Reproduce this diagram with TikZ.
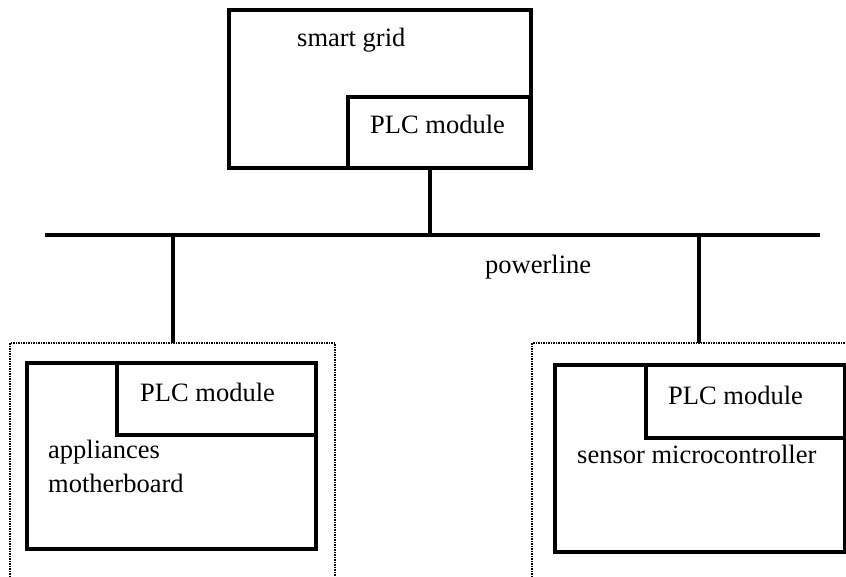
\documentclass[tikz,border=0pt]{standalone}
\usepackage{fontspec}
\setmainfont{Liberation Serif}
\usetikzlibrary{positioning}

\begin{document}
\begin{tikzpicture}[x=1pt,y=1pt,
  box/.style={draw, line width=3.5pt, anchor=north west, inner sep=0pt, outer sep=0pt},
  dotbox/.style={draw, densely dotted, line width=1.5pt, anchor=north west, inner sep=0pt, outer sep=0pt},
  lbl/.style={anchor=base west, inner sep=0pt, font=\fontsize{26.5}{30}\selectfont}]
\useasboundingbox (0,0) rectangle (846,-576);
\clip (0,0) rectangle (846,-576);
% smart grid
\node [box, minimum width=302pt, minimum height=158pt] (grid) at (229,-10) {};
\node [box, minimum width=182pt, minimum height=71pt] (gridplc) at (348,-97) {};
\node [lbl] (gridtxt) at (297,-46) {smart grid};
\node [lbl] (gridplctxt) at (370,-133) {PLC module};
% powerline
\coordinate (busL) at (45,-235);
\coordinate (busR) at (820,-235);
\coordinate (tapG) at (430,-235);
\coordinate (tapA) at (173,-235);
\coordinate (tapS) at (699,-235);
\draw [line width=3.5pt] (busL) -- (busR);
\draw [line width=3.5pt] (tapG |- gridplc.south) -- (tapG);
\node [lbl] (bustxt) at (485,-273) {powerline};
% appliance side
\node [dotbox, minimum width=325pt, minimum height=260pt] (applout) at (10,-343) {};
\node [box, minimum width=289pt, minimum height=186pt] (appl) at (27,-363) {};
\node [box, minimum width=199pt, minimum height=72pt] (applplc) at (117,-363) {};
\node [lbl] (applplctxt) at (140,-401) {PLC module};
\node [lbl] (appltxt) at (48,-458) {appliances};
\node [lbl] (appltxtb) at (48,-492) {motherboard};
\draw [line width=3.5pt] (tapA) -- (tapA |- applout.north);
% sensor side
\node [dotbox, minimum width=340pt, minimum height=260pt] (sensout) at (532,-343) {};
\node [box, minimum width=290pt, minimum height=187pt] (sens) at (555,-365) {};
\node [box, minimum width=199pt, minimum height=73pt] (sensplc) at (646,-365) {};
\node [lbl] (sensplctxt) at (668,-404) {PLC module};
\node [lbl] (senstxt) at (577,-463) {sensor microcontroller};
\draw [line width=3.5pt] (tapS) -- (tapS |- sensout.north);
\end{tikzpicture}
\end{document}
